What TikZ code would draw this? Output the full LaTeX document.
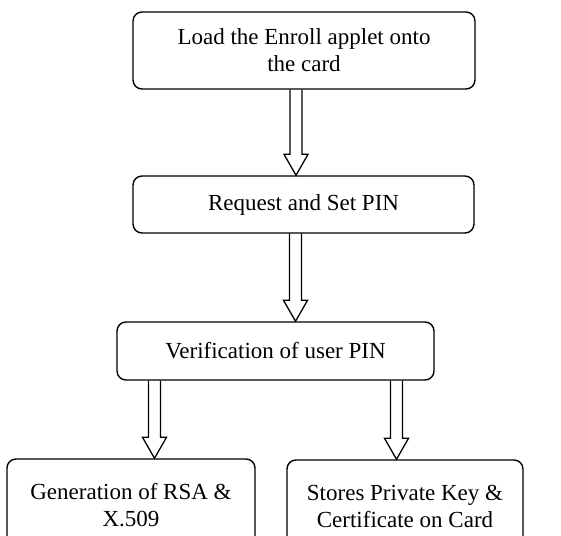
\documentclass[tikz,border=0pt]{standalone}
\usepackage{fontspec}
\setmainfont{Liberation Serif}
\usetikzlibrary{calc}
\newcommand\blockarr[3]{%
  \draw[barrow] let \p1=(#2.south), \p2=(#3.north) in
    (#1pt-6pt,\y1) -- (#1pt-6pt,\y2+21pt) -- (#1pt-12pt,\y2+21pt) -- (#1pt,\y2)
    -- (#1pt+12pt,\y2+21pt) -- (#1pt+6pt,\y2+21pt) -- (#1pt+6pt,\y1);}
\begin{document}
\begin{tikzpicture}[x=1pt,y=-1pt,
  box/.style={draw, line width=1.4pt, rounded corners=9pt, align=center, inner sep=0pt,
    font=\fontsize{23}{27}\selectfont},
  barrow/.style={draw, line width=1.3pt, line join=miter}]
\useasboundingbox (0,0) rectangle (561,535);
\clip (0,0) rectangle (561,535);
\node[box, minimum width=342, minimum height=77] (load) at (304,50.5) {Load the Enroll applet onto\\the card};
\node[box, minimum width=341, minimum height=57] (req) at (303.5,204.5) {Request and Set PIN};
\node[box, minimum width=317, minimum height=58] (ver) at (275.5,351) {Verification of user PIN};
\node[box, minimum width=248, minimum height=92] (gen) at (131,505) {Generation of RSA \&\\X.509};
\node[box, minimum width=236, minimum height=92] (store) at (405,506) {Stores Private Key \&\\Certificate on Card};
\blockarr{296}{load}{req}
\blockarr{295.5}{req}{ver}
\blockarr{154.5}{ver}{gen}
\blockarr{396.5}{ver}{store}
\end{tikzpicture}
\end{document}
